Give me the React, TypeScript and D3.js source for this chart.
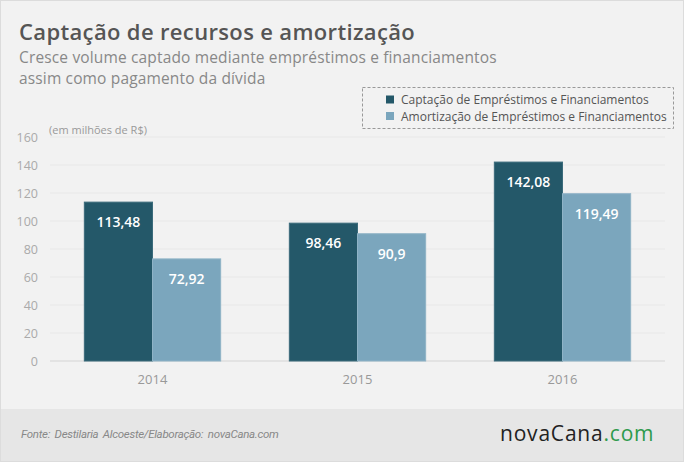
import * as d3 from 'd3';

const width = 684;
const height = 462;

const years = ['2014', '2015', '2016'];
const captacao = [113.48, 98.46, 142.08];
const amortizacao = [72.92, 90.9, 119.49];
const captacaoLabels = ['113,48', '98,46', '142,08'];
const amortizacaoLabels = ['72,92', '90,9', '119,49'];
const seriesNames = [
  'Captação de Empréstimos e Financiamentos',
  'Amortização de Empréstimos e Financiamentos',
];
const seriesColors = ['#245869', '#7ba6bd'];
const yTicks = [0, 20, 40, 60, 80, 100, 120, 140, 160];

const font = "'Open Sans', 'DejaVu Sans', sans-serif";

const plot = { left: 50, right: 665, top: 137, bottom: 361 };

export default function App() {
  const x = d3
    .scaleBand<string>()
    .domain(years)
    .range([plot.left, plot.right])
    .paddingInner(0.335)
    .paddingOuter(0.1675);
  const y = d3.scaleLinear([0, 160], [plot.bottom, plot.top]);
  const inner = d3
    .scaleBand<number>()
    .domain([0, 1])
    .range([0, x.bandwidth()]);

  const series = [
    { values: captacao, labels: captacaoLabels },
    { values: amortizacao, labels: amortizacaoLabels },
  ];

  return (
    <svg
      width={width}
      height={height}
      style={{ position: 'absolute', left: 0, top: 0, fontFamily: font }}
    >
      <rect x={0.5} y={0.5} width={width - 1} height={height - 1} fill="#f2f2f2" stroke="#dcdcdc" />
      <rect x={1} y={409} width={width - 2} height={height - 410} fill="#e6e6e6" />

      {/* title */}
      <text x={19} y={40} fontSize={22} fontWeight={600} fill="#555" style={{ letterSpacing: '0.35px' }}>
        Captação de recursos e amortização
      </text>
      <text x={19} y={63} fontSize={15.5} fill="#888" style={{ letterSpacing: '0.15px' }}>
        Cresce volume captado mediante empréstimos e financiamentos
      </text>
      <text x={19} y={84} fontSize={15.5} fill="#888" style={{ letterSpacing: '0.15px' }}>
        assim como pagamento da dívida
      </text>

      {/* legend */}
      <rect
        x={362.5}
        y={87.5}
        width={311}
        height={41}
        fill="none"
        stroke="#999"
        strokeDasharray="3,2"
      />
      {seriesNames.map((name, i) => (
        <g key={name} transform={`translate(386,${99.5 + i * 16.5})`}>
          <rect x={0} y={-4} width={8} height={8} fill={seriesColors[i]} />
          <text x={15} y={4.5} fontSize={12} fill="#555">
            {name}
          </text>
        </g>
      ))}

      {/* grid + y axis */}
      {yTicks.map((t) => (
        <g key={t}>
          <line
            x1={plot.left}
            x2={plot.right}
            y1={y(t)}
            y2={y(t)}
            stroke={t === 0 ? '#d4d4d4' : '#e8e8e8'}
            strokeWidth={1}
          />
          <text x={38} y={y(t) + 4.5} fontSize={12.5} fill="#aaa" textAnchor="end">
            {t}
          </text>
        </g>
      ))}
      <text x={49} y={134} fontSize={11} fill="#999">
        (em milhões de R$)
      </text>

      {/* bars */}
      {years.map((yr, gi) => (
        <g key={yr} transform={`translate(${x(yr)},0)`}>
          {series.map((s, si) => {
            const v = s.values[gi];
            const top = y(v);
            const bx = inner(si) ?? 0;
            return (
              <g key={si}>
                <rect
                  x={bx}
                  y={top}
                  width={inner.bandwidth()}
                  height={y(0) - top}
                  fill={seriesColors[si]}
                  stroke={si === 0 ? '#3b6b7b' : '#8fb3c6'}
                  strokeWidth={1}
                />
                <text
                  x={bx + inner.bandwidth() / 2}
                  y={top + 25}
                  fontSize={14}
                  fontWeight={600}
                  fill="#fff"
                  textAnchor="middle"
                >
                  {s.labels[gi]}
                </text>
              </g>
            );
          })}
          <text
            x={x.bandwidth() / 2}
            y={384}
            fontSize={13}
            fill="#999"
            textAnchor="middle"
          >
            {yr}
          </text>
        </g>
      ))}

      {/* footer */}
      <text
        x={21}
        y={438}
        fontSize={11.5}
        fontStyle="italic"
        fill="#888"
        style={{ fontFamily: "'Liberation Sans Narrow', 'Roboto', sans-serif", wordSpacing: '2px', letterSpacing: '-0.3px' }}
      >
        Fonte: Destilaria Alcoeste/Elaboração: novaCana.com
      </text>
      <text x={500} y={441} fontSize={21} fill="#222" style={{ letterSpacing: '0.8px' }}>
        novaCana<tspan fill="#2e9a4c">.com</tspan>
      </text>
    </svg>
  );
}
